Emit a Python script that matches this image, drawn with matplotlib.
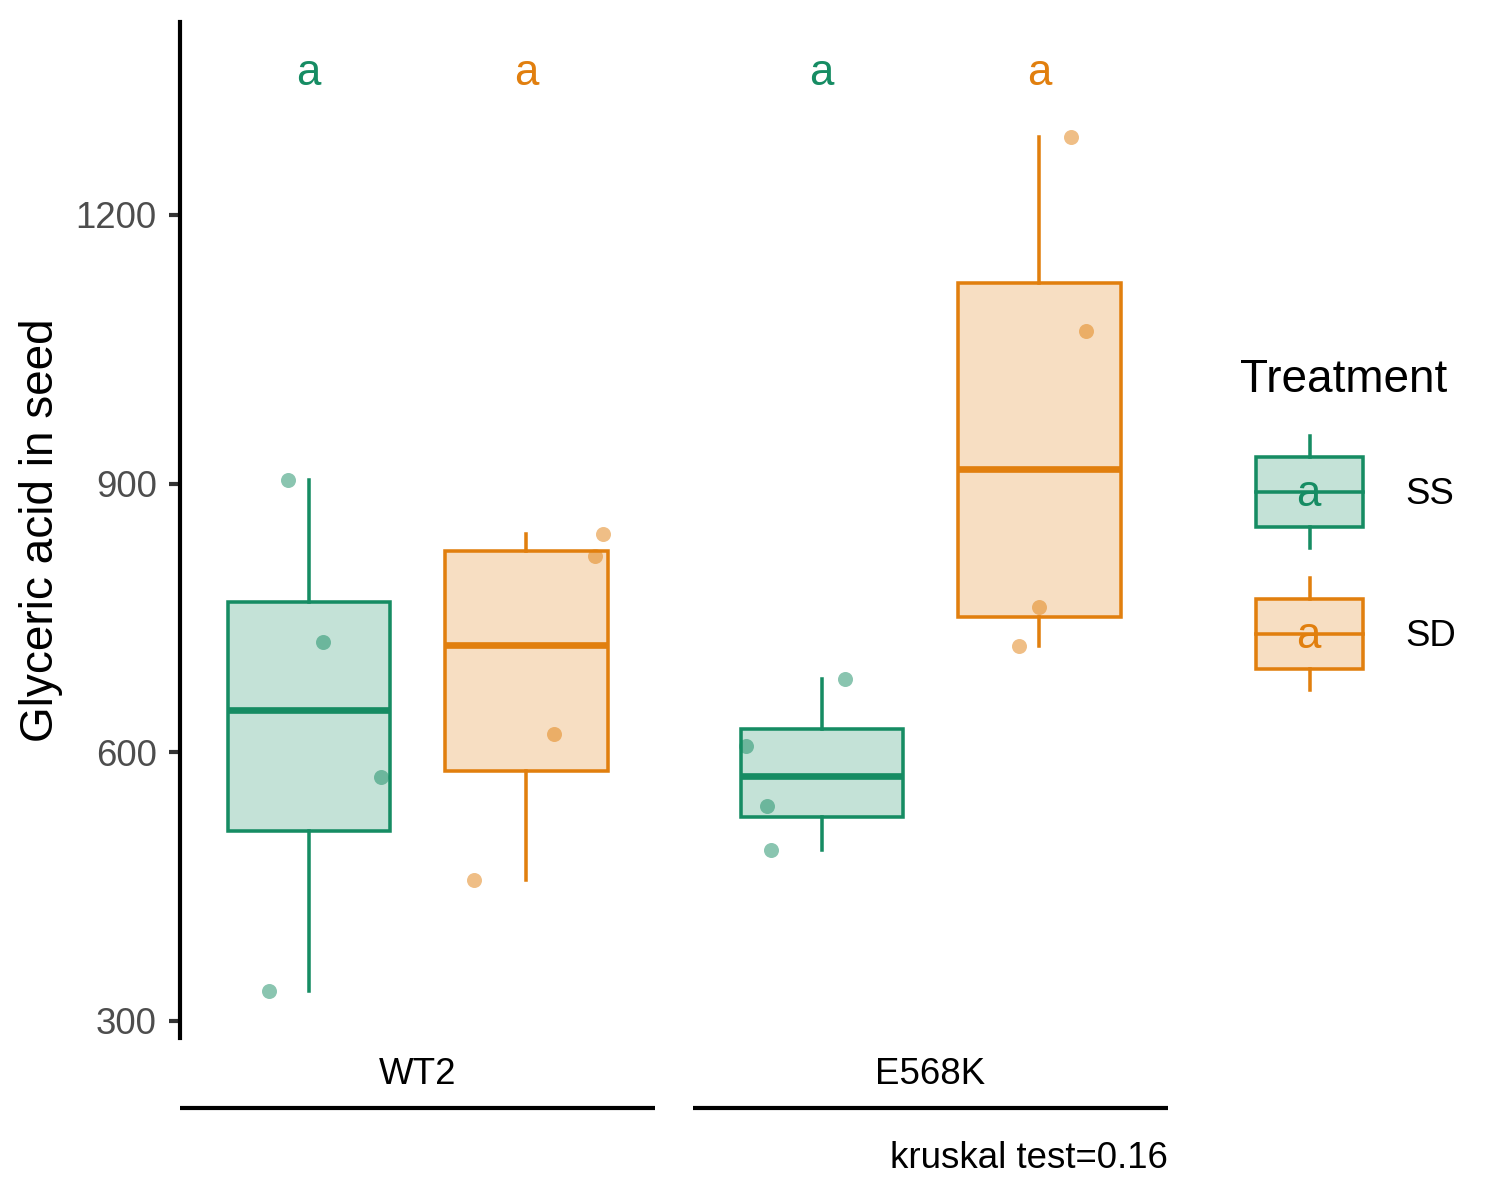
import numpy as np
import matplotlib
matplotlib.use('Agg')
import matplotlib.pyplot as plt
from matplotlib.colors import to_rgba
from matplotlib.patches import Rectangle

plt.rcParams['font.family'] = ['Liberation Sans', 'DejaVu Sans']

# data
genotypes = ['WT2', 'E568K']
treatments = ['SS', 'SD']
colors = ['#168C63', '#E17F0E']

wt2_ss = [904, 723, 572, 333]
wt2_sd = [844, 819, 620, 457]
e568k_ss = [682, 607, 540, 491]
e568k_sd = [1287, 1070, 762, 719]

# horizontal jitter of the points (x units)
wt2_ss_jit = [-0.053, 0.035, 0.182, -0.101]
wt2_sd_jit = [0.194, 0.174, 0.071, -0.131]
e568k_ss_jit = [0.058, -0.192, -0.139, -0.129]
e568k_sd_jit = [0.081, 0.119, 0.0, -0.051]

letters_wt2 = ['a', 'a']
letters_e568k = ['a', 'a']
letter_y = 1345
caption = 'kruskal test=0.16'
ylabel = 'Glyceric acid in seed'
yticks = [300, 600, 900, 1200]

values = {'WT2': [wt2_ss, wt2_sd], 'E568K': [e568k_ss, e568k_sd]}
jitters = {'WT2': [wt2_ss_jit, wt2_sd_jit], 'E568K': [e568k_ss_jit, e568k_sd_jit]}
letters = {'WT2': letters_wt2, 'E568K': letters_e568k}

W, H = 1500, 1200
fig = plt.figure(figsize=(5, 4), dpi=300)

offs = [-0.275, 0.275]
bw = 0.41
ylim = (281, 1415.5)

lefts = [180, 693]
for k, g in enumerate(genotypes):
    ax = fig.add_axes([lefts[k] / W, 1 - 1038 / H, 475 / W, 1016 / H])
    ax.set_xlim(0.4, 1.6)
    ax.set_ylim(*ylim)
    for i, t in enumerate(treatments):
        c = colors[i]
        pos = 1 + offs[i]
        bp = ax.boxplot(values[g][i], positions=[pos], widths=bw, patch_artist=True,
                        showcaps=False, showfliers=False, whis=1.5, manage_ticks=False)
        for b in bp['boxes']:
            b.set_facecolor(to_rgba(c, 0.25))
            b.set_edgecolor(c)
            b.set_linewidth(0.85)
        for w in bp['whiskers']:
            w.set_color(c)
            w.set_linewidth(0.85)
        for m in bp['medians']:
            m.set_color(c)
            m.set_linewidth(1.6)
            m.set_solid_capstyle('butt')
        xs = pos + np.array(jitters[g][i])
        ax.scatter(xs, values[g][i], s=13, color=c, alpha=0.5, linewidths=0, zorder=4)
        ax.text(pos, letter_y, letters[g][i], color=c, ha='center', va='baseline', fontsize=10.5)

    for s in ['top', 'right', 'bottom']:
        ax.spines[s].set_visible(False)
    ax.set_xticks([])
    if k == 0:
        ax.spines['left'].set_linewidth(1.0)
        ax.set_yticks(yticks)
        ax.tick_params(axis='y', length=2.6, width=1.0, color='#333333',
                       labelsize=8.8, labelcolor='#4D4D4D', pad=3)
        ax.set_ylabel(ylabel, fontsize=11, labelpad=3)
    else:
        ax.spines['left'].set_visible(False)
        ax.set_yticks([])
    # facet strip below the panel
    ax.plot([0, 1], [-0.0689, -0.0689], transform=ax.transAxes, clip_on=False,
            color='black', lw=1.0, solid_capstyle='butt')
    ax.text(0.5, -0.0364, g, transform=ax.transAxes, ha='center', va='center', fontsize=8.8)

fig.text(1168 / W, 1 - 1158 / H, caption, ha='right', va='center', fontsize=8.8)

# legend drawn in pixel coordinates
lg = fig.add_axes([0, 0, 1, 1])
lg.set_xlim(0, W)
lg.set_ylim(H, 0)
lg.axis('off')
lg.text(1240, 380, 'Treatment', ha='left', va='center', fontsize=11)
key_y = [492, 634]
for i, t in enumerate(treatments):
    c = colors[i]
    cy = key_y[i]
    lg.add_patch(Rectangle((1256, cy - 35), 107, 70, facecolor=to_rgba(c, 0.25),
                           edgecolor=c, lw=0.85))
    lg.plot([1309.5, 1309.5], [cy - 56, cy - 35], color=c, lw=0.85)
    lg.plot([1309.5, 1309.5], [cy + 35, cy + 56], color=c, lw=0.85)
    lg.plot([1256, 1363], [cy, cy], color=c, lw=0.85)
    lg.text(1308, cy + 2, 'a', color=c, ha='center', va='center', fontsize=10.5)
    lg.text(1405, cy + 2, t, ha='left', va='center', fontsize=8.8)

fig.savefig('out.png', dpi=300)
